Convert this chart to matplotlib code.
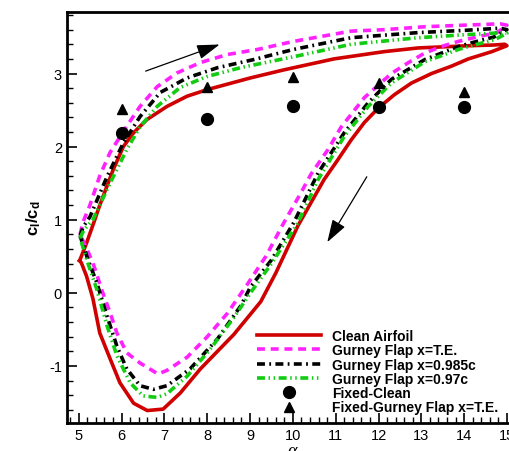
import matplotlib
matplotlib.use("Agg")
import matplotlib.pyplot as plt
from matplotlib.ticker import MultipleLocator

plt.rcParams["font.family"] = ["Liberation Sans", "DejaVu Sans"]
plt.rcParams["mathtext.fontset"] = "custom"
plt.rcParams["mathtext.rm"] = "Liberation Sans"
plt.rcParams["mathtext.bf"] = "Liberation Sans:bold"
plt.rcParams["mathtext.it"] = "Liberation Sans:italic"
plt.rcParams["axes.unicode_minus"] = False

# hysteresis loops: upstroke 5 -> 15 then downstroke 15 -> 5
clean_a = [5.02, 5.18, 5.35, 5.49, 5.8, 6.04, 6.28, 6.59, 7.06, 7.53, 8.0, 9.01, 9.79,
           10.96, 12.14, 12.93, 14.1, 14.7, 14.95, 15.0,
           14.65, 14.1, 13.7, 13.24, 12.77, 12.37, 12.0, 11.67, 11.36, 11.05, 10.73,
           10.42, 10.12, 9.6, 9.25, 8.62, 7.84, 7.37, 6.97, 6.6, 6.28, 5.96, 5.73,
           5.49, 5.33, 5.18, 5.06, 5.02]
clean_v = [0.44, 0.68, 0.96, 1.2, 1.68, 2.0, 2.19, 2.37, 2.55, 2.69, 2.78, 2.94, 3.05,
           3.2, 3.3, 3.35, 3.38, 3.39, 3.40, 3.38,
           3.30, 3.2, 3.1, 3.0, 2.87, 2.71, 2.53, 2.33, 2.09, 1.82, 1.55,
           1.23, 0.92, 0.27, -0.12, -0.57, -1.04, -1.37, -1.59, -1.61, -1.51, -1.23, -0.9,
           -0.55, -0.08, 0.23, 0.41, 0.44]

te_a = [5.03, 5.1, 5.26, 5.49, 5.73, 6.12, 6.43, 6.83, 7.3, 7.84, 8.47, 9.18, 10.02,
        11.36, 12.14, 13.08, 13.94, 14.84, 15.0,
        14.77, 14.3, 13.87, 13.47, 13.08, 12.7, 12.3, 11.67, 11.13, 10.82, 10.42,
        10.19, 9.79, 9.37, 8.94, 8.47, 8.0, 7.53, 7.06, 6.85, 6.43, 6.12, 5.89,
        5.73, 5.56, 5.33, 5.21, 5.03]
te_v = [0.8, 0.97, 1.2, 1.6, 1.92, 2.28, 2.55, 2.82, 3.01, 3.15, 3.26, 3.33, 3.44,
        3.58, 3.6, 3.64, 3.66, 3.68, 3.66,
        3.56, 3.5, 3.44, 3.37, 3.28, 3.15, 3.0, 2.67, 2.27, 1.96, 1.62,
        1.37, 0.96, 0.5, 0.12, -0.28, -0.6, -0.88, -1.06, -1.11, -0.96, -0.82, -0.55,
        -0.27, 0.0, 0.41, 0.57, 0.8]

f985_a = [5.03, 5.1, 5.26, 5.66, 6.04, 6.43, 6.9, 7.53, 8.24, 9.08, 10.02, 11.36,
          12.93, 14.0, 14.84, 15.0,
          14.7, 14.3, 13.87, 13.08, 12.3, 11.76, 11.2, 10.59, 10.02, 9.5, 9.01, 8.78,
          8.24, 7.6, 7.06, 6.74, 6.43, 6.12, 5.89, 5.66, 5.42, 5.21, 5.03]
f985_v = [0.78, 0.9, 1.04, 1.59, 2.05, 2.41, 2.74, 2.94, 3.08, 3.19, 3.33, 3.49,
          3.56, 3.59, 3.62, 3.6,
          3.5, 3.44, 3.37, 3.19, 2.92, 2.6, 2.19, 1.64, 0.96, 0.45, 0.08, -0.18,
          -0.63, -1.04, -1.27, -1.32, -1.27, -1.04, -0.73, -0.32, 0.14, 0.46, 0.78]

f97_a = [5.03, 5.12, 5.33, 5.73, 6.12, 6.43, 6.83, 7.37, 8.0, 8.78, 10.02, 11.36,
         12.93, 14.0, 14.95, 15.0,
         14.7, 14.3, 13.87, 13.08, 12.3, 11.76, 11.2, 10.59, 10.12, 9.5, 9.01, 8.62,
         8.07, 7.53, 7.06, 6.83, 6.5, 6.2, 5.89, 5.66, 5.42, 5.21, 5.03]
f97_v = [0.75, 0.86, 1.0, 1.5, 1.96, 2.27, 2.55, 2.81, 2.96, 3.08, 3.23, 3.4,
         3.49, 3.53, 3.56, 3.55,
         3.46, 3.4, 3.33, 3.16, 2.87, 2.55, 2.14, 1.55, 0.96, 0.4, 0.0, -0.34,
         -0.77, -1.14, -1.38, -1.43, -1.41, -1.23, -0.86, -0.45, 0.05, 0.41, 0.75]

fixed_a = [6, 8, 10, 12, 14]
fixed_clean = [2.19, 2.38, 2.55, 2.54, 2.54]
fixed_gurney = [2.52, 2.81, 2.95, 2.87, 2.75]

fig = plt.figure(figsize=(5.10, 4.52), dpi=100)
ax = fig.add_axes([0.131, 0.062, 0.884, 0.909])

ax.plot(clean_a, clean_v, color="#d00000", lw=2.6, label="Clean Airfoil")
ax.plot(te_a, te_v, color="#ff22ff", lw=2.6, dashes=(2.2, 1.6), label="Gurney Flap x=T.E.")
ax.plot(f985_a, f985_v, color="black", lw=2.6, dashes=(2.2, 1.2, 0.5, 1.2),
        label="Gurney Flap x=0.985c")
ax.plot(f97_a, f97_v, color="#11cc11", lw=2.6, dashes=(2.2, 1.0, 0.4, 1.0, 0.4, 1.0),
        label="Gurney Flap x=0.97c")
ax.plot(fixed_a, fixed_clean, "o", color="black", ms=8.5, label="Fixed-Clean")
ax.plot(fixed_a, fixed_gurney, "^", color="black", ms=6.5,
        label="Fixed-Gurney Flap x=T.E.")

# direction arrows
ax.annotate("", xy=(8.35, 3.41), xytext=(6.5, 3.02),
            arrowprops=dict(arrowstyle="-|>,head_length=1.4,head_width=0.45",
                            color="black", lw=0.9))
ax.annotate("", xy=(10.77, 0.66), xytext=(11.76, 1.62),
            arrowprops=dict(arrowstyle="-|>,head_length=1.4,head_width=0.45",
                            color="black", lw=0.9))

ax.set_xlim(4.72, 15.25)
ax.set_ylim(-1.78, 3.84)
ax.xaxis.set_major_locator(MultipleLocator(1))
ax.xaxis.set_minor_locator(MultipleLocator(0.2))
ax.yaxis.set_major_locator(MultipleLocator(1))
ax.yaxis.set_minor_locator(MultipleLocator(0.2))
ax.tick_params(which="both", direction="in", top=False, right=False, labelsize=10.5)
ax.tick_params(which="major", length=7, width=1.2)
ax.tick_params(which="minor", length=4, width=1.0)
for side in ("left", "bottom", "top", "right"):
    ax.spines[side].set_linewidth(2.0)

ax.set_ylabel(r"$\mathbf{c_l/c_d}$", fontsize=12, labelpad=4)
ax.set_xlabel("α", family="Liberation Serif", style="italic", fontsize=13, labelpad=0)

leg = ax.legend(loc="upper left", bbox_to_anchor=(257 / 510, 1 - 330 / 452),
                bbox_transform=fig.transFigure, frameon=False, borderpad=0,
                borderaxespad=0, handlelength=4.6, handletextpad=0.8,
                labelspacing=0.02, prop={"weight": "bold", "size": 10})

fig.savefig("out.png", dpi=100)
